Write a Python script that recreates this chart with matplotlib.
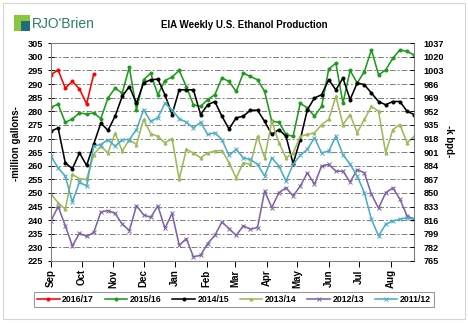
import numpy as np
import pandas as pd
import matplotlib
matplotlib.use("Agg")
import matplotlib.pyplot as plt
import matplotlib.dates as mdates
from matplotlib.patches import Rectangle

plt.rcParams['font.family'] = ['Liberation Sans', 'DejaVu Sans']

# weekly ethanol production, million gallons, weeks counted from the start of September
s2016_17 = [293.5, 295.2, 288.5, 291.0, 288.2, 282.7, 293.7]
s2015_16 = [281.5, 282.6, 275.9, 277.2, 279.4, 279.0, 279.4, 277.3, 284.9, 288.5, 286.7, 296.2, 280.6, 291.6, 294.0, 286.1, 291.3, 292.6,
            295.0, 289.1, 282.4, 281.8, 284.3, 286.1, 292.2, 291.0, 287.3, 294.0, 292.8, 291.6, 287.3, 276.3, 276.0, 271.5, 270.8,
            283.0, 281.2, 278.2, 281.8, 295.5, 297.7, 283.0, 295.0, 290.4, 294.6, 302.6, 293.4, 295.2, 299.5, 302.6, 302.0, 300.7]
s2014_15 = [272.7, 273.9, 261.1, 258.9, 264.7, 260.1, 268.0, 275.7, 273.0, 278.2, 285.5, 289.1, 283.0, 290.4, 291.6, 291.8, 286.1,
            278.8, 287.9, 287.9, 287.9, 278.8, 282.4, 283.6, 278.2, 273.5, 277.6, 278.2, 280.4, 280.4, 276.3, 271.5, 273.3, 270.8,
            260.8, 269.6, 280.6, 284.9, 286.1, 291.6, 287.9, 292.2, 284.3, 290.4, 289.8, 286.7, 283.6, 282.4, 283.6, 283.6, 280.0, 278.8]
s2013_14 = [249.5, 246.4, 244.0, 256.8, 255.2, 255.0, 264.1, 267.2, 264.7, 272.0, 265.4, 269.6, 267.8, 277.0, 271.8, 270.8, 268.4,
            270.0, 255.0, 266.0, 264.7, 262.9, 264.7, 265.4, 265.6, 261.1, 255.5, 261.1, 260.5, 270.8, 262.9, 276.3, 268.5, 262.9,
            264.7, 270.8, 271.5, 272.1, 275.1, 277.0, 285.5, 275.1, 278.8, 272.1, 277.0, 281.8, 280.0, 264.7, 273.3, 275.1, 268.4, 270.8]
s2012_13 = [239.8, 245.0, 238.0, 230.5, 235.2, 234.0, 235.5, 243.0, 243.5, 242.5, 238.6, 236.2, 245.3, 242.0, 241.0, 245.3, 237.0,
            242.5, 230.8, 233.2, 226.5, 227.1, 231.4, 234.4, 239.3, 236.9, 234.4, 237.9, 236.7, 237.3, 250.7, 244.6, 250.1, 251.9,
            248.9, 252.5, 257.4, 253.2, 259.9, 260.5, 258.0, 258.0, 254.0, 258.6, 257.4, 249.5, 244.4, 250.1, 251.9, 247.7, 241.6, 240.3]
s2011_12 = [263.5, 259.2, 256.2, 246.7, 254.0, 252.5, 267.2, 267.8, 269.6, 267.2, 269.6, 269.6, 273.3, 280.6, 276.3, 277.6, 283.0,
            280.5, 277.3, 276.0, 273.9, 276.0, 271.5, 272.1, 269.6, 263.8, 266.0, 262.9, 262.3, 260.5, 256.2, 262.9, 259.9, 254.4,
            260.5, 263.9, 266.0, 270.3, 264.7, 265.4, 270.8, 264.1, 260.5, 256.2, 250.1, 240.3, 234.2, 238.5, 239.7, 240.3, 240.9, 240.3]

labels = ["2016/17", "2015/16", "2014/15", "2013/14", "2012/13", "2011/12"]
colors = ["#ff0000", "#1e9a1e", "#000000", "#9bbb59", "#8064a2", "#4bacc6"]
markers = ["o", "o", "o", "^", "x", "x"]
series = [s2016_17, s2015_16, s2014_15, s2013_14, s2012_13, s2011_12]

weeks = pd.date_range("2016-09-01", periods=52, freq="7D")

fig = plt.figure(figsize=(4.68, 3.23), dpi=100)
ax = fig.add_axes([0.109, 0.192, 0.776, 0.674])

for lab, vals, col, mk in zip(labels, series, colors, markers):
    ms = 3.0 if mk == "x" else 2.2
    ax.plot(weeks[:len(vals)], vals, color=col, lw=1.15, marker=mk, ms=ms,
            mew=0.7, label=lab)

ax.set_xlim(weeks[0], weeks[-1])
ax.set_ylim(225, 305)
ax.set_yticks(np.arange(225, 306, 5))
ax.xaxis.set_major_locator(mdates.MonthLocator())
ax.xaxis.set_major_formatter(mdates.DateFormatter("%b"))
ax.grid(axis="y", color="#808080", lw=0.7, linestyle=(0, (6, 2, 2, 2)))
ax.set_axisbelow(True)

tick_font = dict(fontsize=6.6, fontweight="bold")
for t in ax.get_yticklabels():
    t.set(**tick_font)
for t in ax.get_xticklabels():
    t.set(rotation=90, fontsize=7, fontweight="bold")
ax.tick_params(axis="y", direction="inout", length=5, width=0.7, pad=3)
ax.tick_params(axis="x", direction="out", length=4, width=0.7, pad=2)
for sp in ax.spines.values():
    sp.set_color("#808080")
    sp.set_linewidth(0.8)

ax.set_ylabel("-million gallons-", fontsize=7, fontweight="bold")
ax.yaxis.set_label_coords(-0.082, 0.54)

# right-hand scale in thousand barrels per day
ax2 = ax.twinx()
ax2.set_ylim(765, 1037)
ax2.set_yticks(np.arange(765, 1038, 17))
for t in ax2.get_yticklabels():
    t.set(**tick_font)
ax2.tick_params(axis="y", direction="in", length=3, width=0.7, pad=7)
for sp in ax2.spines.values():
    sp.set_visible(False)
ax2.set_ylabel("-k bpd-", fontsize=7, fontweight="bold", rotation=270)
ax2.yaxis.set_label_coords(1.11, 0.55)

fig.text(0.523, 0.922, "EIA Weekly U.S. Ethanol Production", fontsize=7,
         fontweight="bold", ha="center", va="center")

handles, labs = ax.get_legend_handles_labels()
leg = fig.legend(handles, labs, loc="center", bbox_to_anchor=(0.5, 0.074), ncol=6,
                 prop=dict(size=6.3, weight="bold"), frameon=True, fancybox=False,
                 edgecolor="#808080", handlelength=2.6, handletextpad=0.3,
                 columnspacing=1.2, borderpad=0.35)
leg.get_frame().set_linewidth(0.8)

# company logo
fig.add_artist(Rectangle((0.030, 0.905), 0.034, 0.048, transform=fig.transFigure,
                         facecolor="#8cc63f", edgecolor="none"))
fig.add_artist(Rectangle((0.045, 0.905), 0.019, 0.030, transform=fig.transFigure,
                         facecolor="#1f6f7a", edgecolor="none"))
fig.text(0.068, 0.925, "RJO'Brien", fontsize=10, color="#2a7f6e", va="center", ha="left")

# outer frame
fig.add_artist(Rectangle((0.006, 0.012), 0.988, 0.978, transform=fig.transFigure,
                         fill=False, edgecolor="#d4d4d4", lw=0.8))

fig.savefig("out.png", dpi=100)
